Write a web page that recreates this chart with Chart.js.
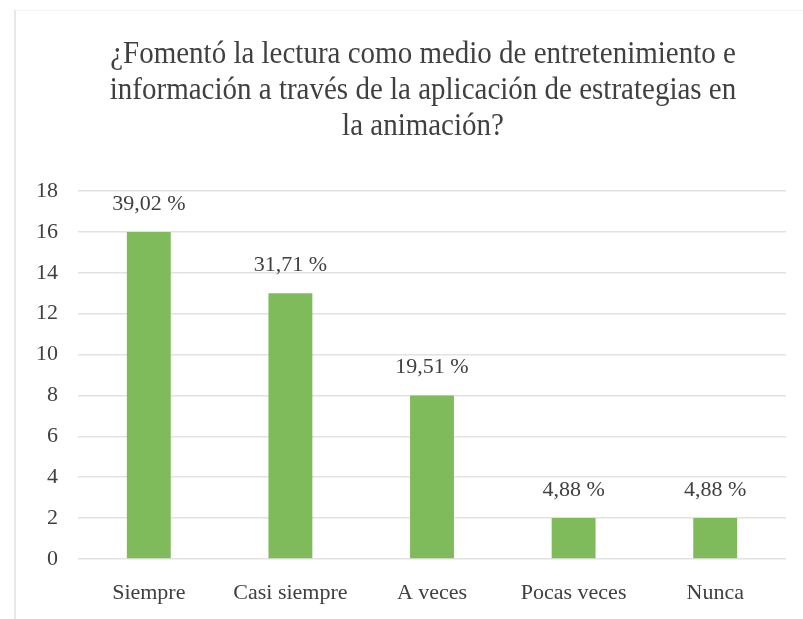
<!DOCTYPE html>
<html>
<head>
<meta charset="utf-8">
<script src="https://cdn.jsdelivr.net/npm/chart.js@4.4.1/dist/chart.umd.min.js"></script>
<style>
    html, body { margin: 0; padding: 0; background: #fff; }
    #wrap { position: relative; width: 803px; height: 619px; }
    #frame {
        position: absolute; left: 14px; top: 10px; right: 0; bottom: 0;
        border-left: 2px solid #e8e8e8; border-top: 1px solid #f2f2f2;
    }
    #grafic { position: absolute; left: 0; top: 0; }
</style>
</head>
<body>
<div id="wrap">
    <div id="frame"></div>
    <canvas id="grafic" width="803" height="619"></canvas>
</div>
<script>
// --- date ---
const categorii = ['Siempre', 'Casi siempre', 'A veces', 'Pocas veces', 'Nunca'];
const valori = [16, 13, 8, 2, 2];
const procente = ['39,02 %', '31,71 %', '19,51 %', '4,88 %', '4,88 %'];
const titlu = [
    '¿Fomentó la lectura como medio de entretenimiento e',
    'información a través de la aplicación de estrategias en',
    'la animación?'
];

const culoareText = '#404040';
const fontSerif = "'Liberation Serif', 'Times New Roman', serif";

// titlul e centrat pe tot cadrul (care iese din imagine în dreapta), deci îl desenăm noi
const titluGrafic = {
    id: 'titluGrafic',
    afterDraw(chart) {
        const ctx = chart.ctx;
        const scara = 1.1; // literele din original sunt ușor alungite pe verticală
        ctx.save();
        ctx.font = '29px ' + fontSerif;
        ctx.fillStyle = culoareText;
        ctx.textAlign = 'center';
        ctx.textBaseline = 'alphabetic';
        ctx.scale(1, scara);
        titlu.forEach((rand, i) => {
            ctx.fillText(rand, 423, (63 + i * 36) / scara);
        });
        ctx.restore();
    }
};

// etichete procentuale deasupra barelor
const eticheteProcent = {
    id: 'eticheteProcent',
    afterDatasetsDraw(chart) {
        const ctx = chart.ctx;
        const meta = chart.getDatasetMeta(0);
        ctx.save();
        ctx.font = '22px ' + fontSerif;
        ctx.fillStyle = culoareText;
        ctx.textAlign = 'center';
        ctx.textBaseline = 'middle';
        meta.data.forEach((bar, i) => {
            ctx.fillText(procente[i], bar.x, bar.y - 28);
        });
        ctx.restore();
    }
};

Chart.defaults.font.family = fontSerif;
Chart.defaults.color = culoareText;

new Chart(document.getElementById('grafic').getContext('2d'), {
    type: 'bar',
    data: {
        labels: categorii,
        datasets: [{
            data: valori,
            backgroundColor: '#7fba5b',
            borderWidth: 0,
            categoryPercentage: 1,
            barPercentage: 0.31
        }]
    },
    options: {
        responsive: false,
        animation: false,
        layout: { padding: { left: 16, right: 17, top: 191, bottom: -8 } },
        plugins: {
            legend: { display: false },
            tooltip: { enabled: false },
            title: { display: false }
        },
        scales: {
            x: {
                grid: { display: false, drawTicks: false },
                border: { display: false },
                ticks: { font: { size: 22, lineHeight: 1 }, padding: 23, color: culoareText }
            },
            y: {
                min: 0,
                max: 18,
                ticks: { stepSize: 2, font: { size: 22 }, padding: 20, color: culoareText },
                grid: { color: '#e2e2e2', lineWidth: 1.5, drawTicks: false },
                border: { display: false }
            }
        }
    },
    plugins: [eticheteProcent, titluGrafic]
});
</script>
</body>
</html>
